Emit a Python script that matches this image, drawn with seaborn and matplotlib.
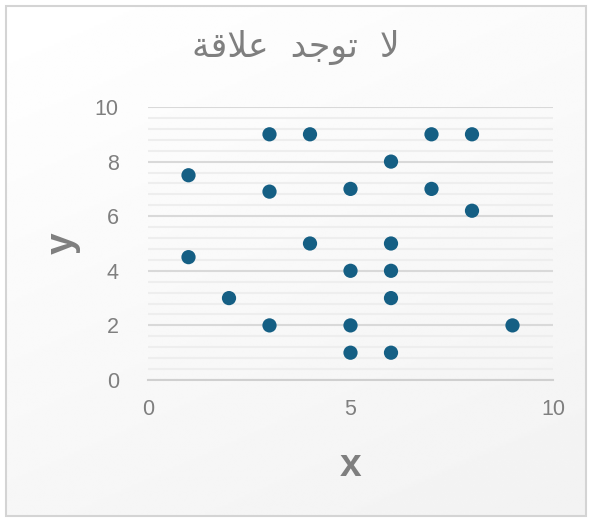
import numpy as np
import pandas as pd
import matplotlib
matplotlib.use("Agg")
import matplotlib.pyplot as plt
from matplotlib.patches import Rectangle
from matplotlib.ticker import MultipleLocator
import seaborn as sns

# Scatter data
x_vals = [3, 4, 7, 8, 6, 1, 3, 5, 7, 8, 4, 6, 1, 5, 6, 2, 6, 3, 5, 9, 5, 6]
y_vals = [9, 9, 9, 9, 8, 7.5, 6.9, 7, 7, 6.2, 5, 5, 4.5, 4, 4, 3, 3, 2, 2, 2, 1, 1]

x_ticks = [0, 5, 10]
y_ticks = [0, 2, 4, 6, 8, 10]

# Arabic title, written in shaped presentation forms (visual order)
title_text = "\uFE94\uFED7\uFEFC\uFECB  \uFEAA\uFE9F\uFEEE\uFE97  \uFEFB"

sns.set_theme(style="white")
plt.rcParams["font.family"] = ["Liberation Sans", "DejaVu Sans"]

W, H = 589, 518
fig = plt.figure(figsize=(W / 100, H / 100), dpi=100)
fig.patch.set_facecolor("white")

# Soft gradient background of the chart area with a thin grey frame
bg = fig.add_axes([0, 0, 1, 1], zorder=-10)
bg.set_xlim(0, W)
bg.set_ylim(H, 0)
bg.axis("off")
gx, gy = np.meshgrid(np.linspace(0, 1, 200), np.linspace(0, 1, 200))
grad = 1.0 - 0.05 * np.clip((gx * 0.4 + gy * 0.8) / 1.2, 0, 1)
bg.imshow(grad, extent=[6, 586, 516, 6], cmap="gray", vmin=0, vmax=1,
          aspect="auto", interpolation="bilinear")
bg.add_patch(Rectangle((5.5, 5.5), 580.5, 510.5, fill=False,
                       edgecolor="#d4d4d4", linewidth=1.5))

left, right = 148 / W, 553 / W
bottom, top = 1 - 380 / H, 1 - 107 / H
ax = fig.add_axes([left, bottom, right - left, top - bottom])
ax.set_facecolor("none")

df = pd.DataFrame({"x": x_vals, "y": y_vals})
sns.scatterplot(data=df, x="x", y="y", ax=ax, color="#155f84", s=105,
                edgecolor="none", zorder=5, clip_on=False)

ax.set_xlim(0, 10)
ax.set_ylim(0, 10)
ax.set_xticks(x_ticks)
ax.set_yticks(y_ticks)
ax.yaxis.set_minor_locator(MultipleLocator(0.4))
ax.grid(True, which="major", axis="y", color="#d9d9d9", linewidth=1.5, zorder=0)
ax.grid(True, which="minor", axis="y", color="#eeeeee", linewidth=1.5, zorder=0)
ax.grid(False, axis="x")
ax.set_axisbelow(True)

for side in ["top", "right", "left"]:
    ax.spines[side].set_visible(False)
ax.spines["bottom"].set_color("#d0d0d0")
ax.spines["bottom"].set_linewidth(1.5)

ax.tick_params(axis="x", which="major", direction="out", length=6, width=1.2,
               color="#d0d0d0", labelsize=15.5, labelcolor="#7f7f7f", pad=8)
ax.tick_params(axis="y", which="both", length=0, labelsize=15.5,
               labelcolor="#7f7f7f", pad=21)

ax.set_xlabel("x", fontsize=28, fontweight="bold", color="#7f7f7f", labelpad=20)
ax.set_ylabel("y", fontsize=28, fontweight="bold", color="#7f7f7f", labelpad=10)

fig.text(296 / W, 1 - 47 / H, title_text, ha="center", va="center",
         fontsize=25, color="#7f7f7f", family="DejaVu Sans")

fig.savefig("out.png", dpi=100)
